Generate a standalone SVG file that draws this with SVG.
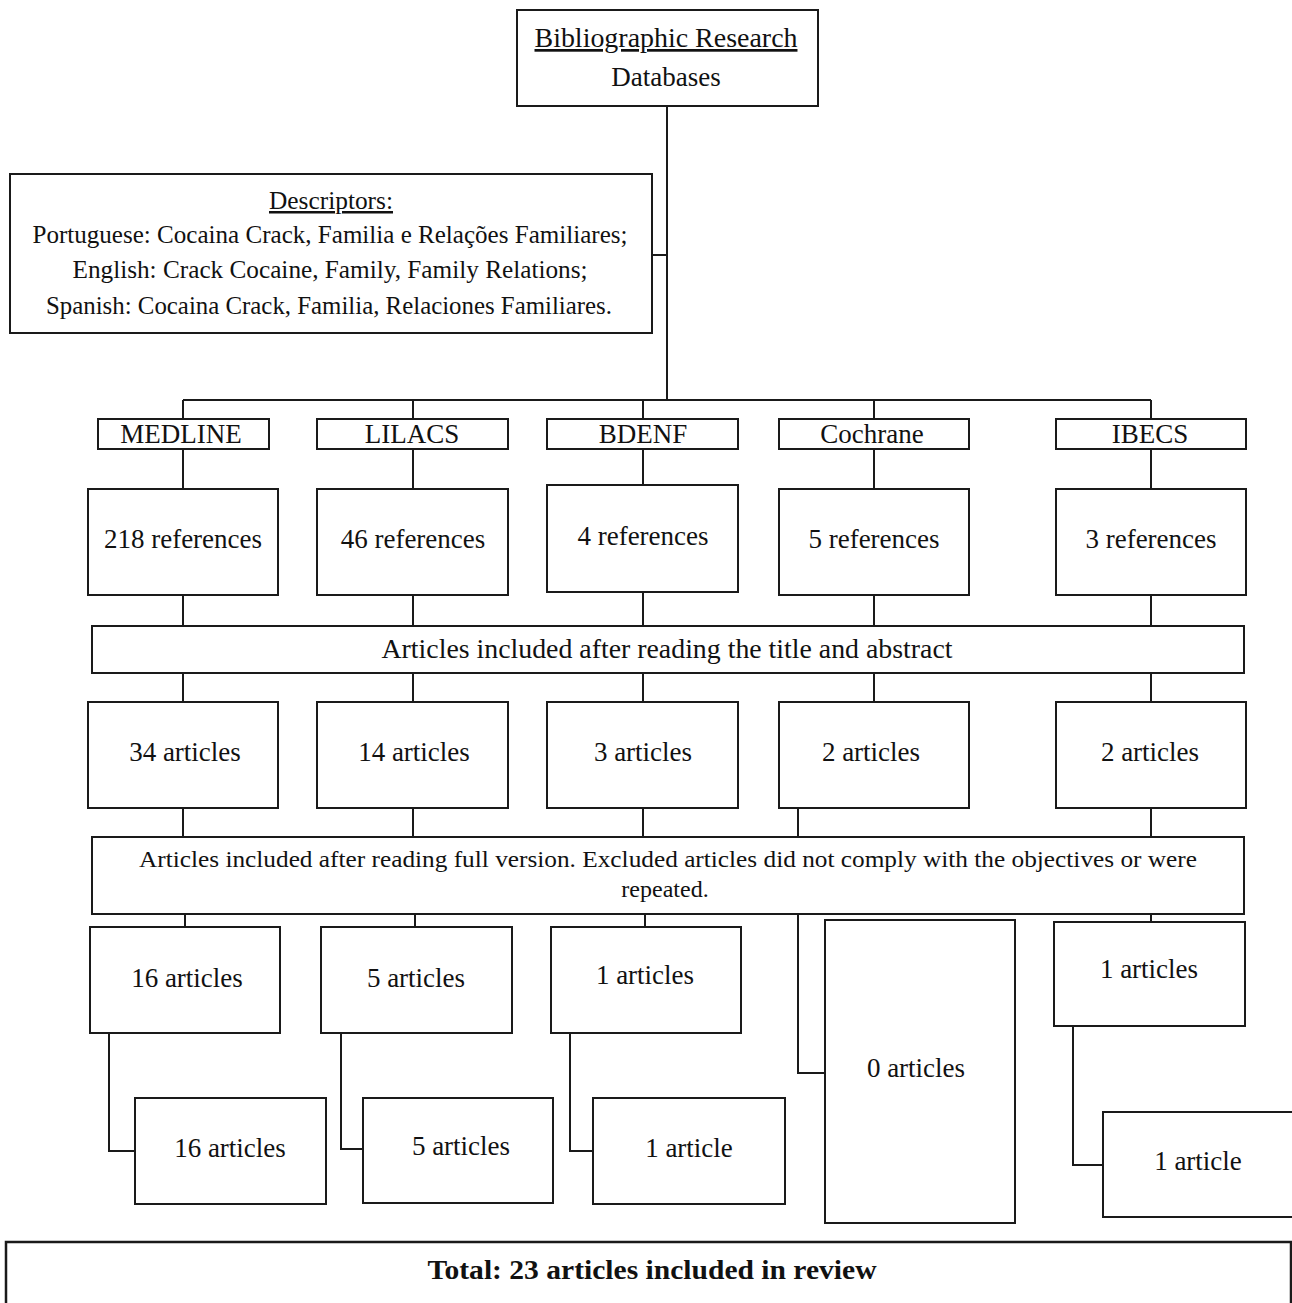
<svg xmlns="http://www.w3.org/2000/svg" width="1292" height="1303" viewBox="0 0 1292 1303">
<style>
.box{fill:#fff;stroke:#1a1a1a;stroke-width:2}
.con{fill:none;stroke:#1a1a1a;stroke-width:2}
.t{font-family:"Liberation Serif","Times New Roman",serif;font-size:27px;fill:#111;text-anchor:middle}
.s{font-size:25px}
.m{font-size:24px}
.b{font-weight:bold;font-size:28px}
</style>
<rect width="1292" height="1303" fill="#fff"/>
<g id="connectors">
<path class="con" d="M667 106V400M183 400H1151M183 400V419M413 400V419M643 400V419M874 400V419M1151 400V419"/>
<path class="con" d="M652 255H667"/>
<path class="con" d="M183 449V489M413 449V489M643 449V485M874 449V489M1151 449V489"/>
<path class="con" d="M183 595V626M413 595V626M643 592V626M874 595V626M1151 595V626"/>
<path class="con" d="M183 673V702M413 673V702M643 673V702M874 673V702M1151 673V702"/>
<path class="con" d="M183 808V837M413 808V837M643 808V837M798 808V837M1151 808V837"/>
<path class="con" d="M185 914V927M415 914V927M645 914V927M798 914V1073H825M1151 914V922"/>
<path class="con" d="M109 1033V1151H135M341 1033V1149H363M570 1033V1151H593M1073 1026V1165H1103"/>
</g>
<g id="top">
<rect class="box" x="517" y="10" width="301" height="96"/>
<text class="t" x="666" y="47" text-decoration="underline" textLength="263" lengthAdjust="spacingAndGlyphs">Bibliographic  Research</text>
<text class="t" x="666" y="86">Databases</text>
</g>
<g id="descriptors">
<rect class="box" x="10" y="174" width="642" height="159"/>
<text class="t s" x="331" y="209" text-decoration="underline" textLength="124" lengthAdjust="spacingAndGlyphs">Descriptors:</text>
<text class="t s" x="330" y="243" textLength="595" lengthAdjust="spacingAndGlyphs">Portuguese: Cocaina Crack,  Familia  e Relações Familiares;</text>
<text class="t s" x="330" y="278" textLength="515" lengthAdjust="spacingAndGlyphs">English:  Crack Cocaine, Family,  Family  Relations;</text>
<text class="t s" x="329" y="314" textLength="566" lengthAdjust="spacingAndGlyphs">Spanish: Cocaina Crack,  Familia,  Relaciones Familiares.</text>
</g>
<g id="db-medline"><rect class="box" x="98" y="419" width="171" height="30"/><text class="t" x="181" y="443">MEDLINE</text></g>
<g id="db-lilacs"><rect class="box" x="317" y="419" width="191" height="30"/><text class="t" x="412" y="443">LILACS</text></g>
<g id="db-bdenf"><rect class="box" x="547" y="419" width="191" height="30"/><text class="t" x="643" y="443">BDENF</text></g>
<g id="db-cochrane"><rect class="box" x="779" y="419" width="190" height="30"/><text class="t" x="872" y="443">Cochrane</text></g>
<g id="db-ibecs"><rect class="box" x="1056" y="419" width="190" height="30"/><text class="t" x="1150" y="443">IBECS</text></g>
<g id="ref-medline"><rect class="box" x="88" y="489" width="190" height="106"/><text class="t" x="183" y="548">218 references</text></g>
<g id="ref-lilacs"><rect class="box" x="317" y="489" width="191" height="106"/><text class="t" x="413" y="548">46 references</text></g>
<g id="ref-bdenf"><rect class="box" x="547" y="485" width="191" height="107"/><text class="t" x="643" y="545">4 references</text></g>
<g id="ref-cochrane"><rect class="box" x="779" y="489" width="190" height="106"/><text class="t" x="874" y="548">5 references</text></g>
<g id="ref-ibecs"><rect class="box" x="1056" y="489" width="190" height="106"/><text class="t" x="1151" y="548">3 references</text></g>
<g id="bar-title"><rect class="box" x="92" y="626" width="1152" height="47"/><text class="t" x="667" y="658" textLength="571" lengthAdjust="spacingAndGlyphs">Articles included  after reading the title  and abstract</text></g>
<g id="art-medline"><rect class="box" x="88" y="702" width="190" height="106"/><text class="t" x="185" y="761">34 articles</text></g>
<g id="art-lilacs"><rect class="box" x="317" y="702" width="191" height="106"/><text class="t" x="414" y="761">14 articles</text></g>
<g id="art-bdenf"><rect class="box" x="547" y="702" width="191" height="106"/><text class="t" x="643" y="761">3 articles</text></g>
<g id="art-cochrane"><rect class="box" x="779" y="702" width="190" height="106"/><text class="t" x="871" y="761">2 articles</text></g>
<g id="art-ibecs"><rect class="box" x="1056" y="702" width="190" height="106"/><text class="t" x="1150" y="761">2 articles</text></g>
<g id="bar-full"><rect class="box" x="92" y="837" width="1152" height="77"/>
<text class="t m" x="668" y="867" textLength="1058" lengthAdjust="spacingAndGlyphs">Articles included after reading full  version. Excluded  articles  did not comply with the objectives or were</text>
<text class="t m" x="665" y="897">repeated.</text></g>
<g id="full-medline"><rect class="box" x="90" y="927" width="190" height="106"/><text class="t" x="187" y="987">16 articles</text></g>
<g id="full-lilacs"><rect class="box" x="321" y="927" width="191" height="106"/><text class="t" x="416" y="987">5 articles</text></g>
<g id="full-bdenf"><rect class="box" x="551" y="927" width="190" height="106"/><text class="t" x="645" y="984">1 articles</text></g>
<g id="full-cochrane"><rect class="box" x="825" y="920" width="190" height="303"/><text class="t" x="916" y="1077">0 articles</text></g>
<g id="full-ibecs"><rect class="box" x="1054" y="922" width="191" height="104"/><text class="t" x="1149" y="978">1 articles</text></g>
<g id="final-medline"><rect class="box" x="135" y="1098" width="191" height="106"/><text class="t" x="230" y="1157">16 articles</text></g>
<g id="final-lilacs"><rect class="box" x="363" y="1098" width="190" height="105"/><text class="t" x="461" y="1155">5 articles</text></g>
<g id="final-bdenf"><rect class="box" x="593" y="1098" width="192" height="106"/><text class="t" x="689" y="1157">1 article</text></g>
<g id="final-ibecs"><rect class="box" x="1103" y="1112" width="190" height="105"/><text class="t" x="1198" y="1170">1 article</text></g>
<g id="total"><rect class="box" x="6" y="1242" width="1285" height="75" style="stroke-width:2.5"/><text class="t b" x="652" y="1279" textLength="449" lengthAdjust="spacingAndGlyphs">Total: 23 articles included in review</text></g>
</svg>
